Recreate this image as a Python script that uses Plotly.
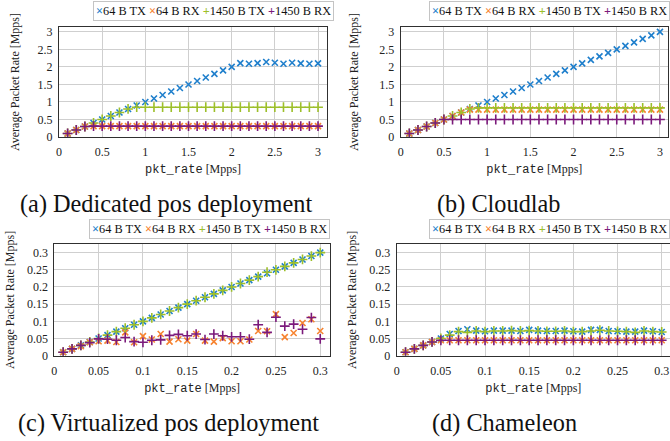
import plotly.graph_objects as go

# ---------------- data ----------------
series_names = ["64 B TX", "64 B RX", "1450 B TX", "1450 B RX"]

rate_hw = [0.1, 0.2, 0.3, 0.4, 0.5, 0.6, 0.7, 0.8, 0.9, 1.0,
           1.1, 1.2, 1.3, 1.4, 1.5, 1.6, 1.7, 1.8, 1.9, 2.0,
           2.1, 2.2, 2.3, 2.4, 2.5, 2.6, 2.7, 2.8, 2.9, 3.0]

rate_vm = [0.01, 0.02, 0.03, 0.04, 0.05, 0.06, 0.07, 0.08, 0.09, 0.10,
           0.11, 0.12, 0.13, 0.14, 0.15, 0.16, 0.17, 0.18, 0.19, 0.20,
           0.21, 0.22, 0.23, 0.24, 0.25, 0.26, 0.27, 0.28, 0.29, 0.30]

# (a) Dedicated pos deployment
ded_64_tx = [0.1, 0.2, 0.3, 0.4, 0.5, 0.6, 0.7, 0.8, 0.9, 1.0,
             1.1, 1.2, 1.3, 1.4, 1.5, 1.6, 1.7, 1.8, 1.9, 2.0,
             2.11, 2.09, 2.11, 2.14, 2.12, 2.09, 2.12, 2.1, 2.09, 2.1]
ded_64_rx = [0.1, 0.2, 0.3, 0.31, 0.31, 0.31, 0.31, 0.31, 0.31, 0.31,
             0.31, 0.31, 0.31, 0.31, 0.31, 0.31, 0.31, 0.31, 0.31, 0.31,
             0.31, 0.31, 0.31, 0.31, 0.31, 0.31, 0.31, 0.31, 0.31, 0.31]
ded_1450_tx = [0.1, 0.2, 0.3, 0.4, 0.5, 0.6, 0.7, 0.8, 0.85, 0.85,
               0.85, 0.85, 0.85, 0.85, 0.85, 0.85, 0.85, 0.85, 0.85, 0.85,
               0.85, 0.85, 0.85, 0.85, 0.85, 0.85, 0.85, 0.85, 0.85, 0.85]
ded_1450_rx = [0.1, 0.2, 0.3, 0.31, 0.31, 0.31, 0.31, 0.31, 0.31, 0.31,
               0.31, 0.31, 0.31, 0.31, 0.31, 0.31, 0.31, 0.31, 0.31, 0.31,
               0.31, 0.31, 0.31, 0.31, 0.31, 0.31, 0.31, 0.31, 0.31, 0.31]

# (b) Cloudlab
cl_64_tx = [0.1, 0.2, 0.3, 0.4, 0.5, 0.6, 0.7, 0.8, 0.9, 1.0,
            1.1, 1.2, 1.3, 1.4, 1.5, 1.6, 1.7, 1.8, 1.9, 2.0,
            2.1, 2.2, 2.3, 2.4, 2.5, 2.6, 2.7, 2.8, 2.9, 3.0]
cl_64_rx = [0.1, 0.2, 0.3, 0.4, 0.5, 0.6, 0.7, 0.78, 0.78, 0.78,
            0.78, 0.78, 0.78, 0.78, 0.78, 0.78, 0.78, 0.78, 0.78, 0.78,
            0.78, 0.78, 0.78, 0.78, 0.78, 0.78, 0.78, 0.78, 0.78, 0.78]
cl_1450_tx = [0.1, 0.2, 0.3, 0.4, 0.5, 0.6, 0.7, 0.8, 0.83, 0.83,
              0.83, 0.83, 0.83, 0.83, 0.83, 0.83, 0.83, 0.83, 0.83, 0.83,
              0.83, 0.83, 0.83, 0.83, 0.83, 0.83, 0.83, 0.83, 0.83, 0.83]
cl_1450_rx = [0.1, 0.2, 0.3, 0.4, 0.5, 0.5, 0.5, 0.5, 0.5, 0.5,
              0.5, 0.5, 0.5, 0.5, 0.5, 0.5, 0.5, 0.5, 0.5, 0.5,
              0.5, 0.5, 0.5, 0.5, 0.5, 0.5, 0.5, 0.5, 0.5, 0.5]

# (c) Virtualized pos deployment
vm_64_tx = [0.01, 0.02, 0.03, 0.04, 0.05, 0.06, 0.07, 0.08, 0.09, 0.10,
            0.11, 0.12, 0.13, 0.14, 0.15, 0.16, 0.17, 0.18, 0.19, 0.20,
            0.21, 0.22, 0.23, 0.24, 0.25, 0.26, 0.27, 0.28, 0.29, 0.30]
vm_64_rx = [0.01, 0.02, 0.028, 0.039, 0.042, 0.044, 0.04, 0.068, 0.039, 0.057,
            0.047, 0.063, 0.041, 0.048, 0.044, 0.063, 0.044, 0.041, 0.051, 0.042,
            0.042, 0.047, 0.072, 0.071, 0.121, 0.054, 0.066, 0.095, 0.106, 0.072]
vm_1450_tx = [0.01, 0.02, 0.03, 0.04, 0.05, 0.06, 0.07, 0.08, 0.09, 0.10,
              0.11, 0.12, 0.13, 0.14, 0.15, 0.16, 0.17, 0.18, 0.19, 0.20,
              0.21, 0.22, 0.23, 0.243, 0.25, 0.26, 0.27, 0.28, 0.29, 0.30]
vm_1450_rx = [0.01, 0.02, 0.03, 0.038, 0.049, 0.048, 0.045, 0.053, 0.041, 0.039,
              0.045, 0.046, 0.059, 0.062, 0.058, 0.063, 0.047, 0.063, 0.058, 0.055,
              0.055, 0.048, 0.09, 0.068, 0.112, 0.086, 0.092, 0.077, 0.111, 0.049]

# (d) Chameleon
ch_64_tx = [0.01, 0.02, 0.03, 0.04, 0.05, 0.063, 0.072, 0.077, 0.073, 0.071,
            0.073, 0.073, 0.073, 0.072, 0.075, 0.073, 0.072, 0.072, 0.073, 0.071,
            0.07, 0.075, 0.075, 0.072, 0.071, 0.07, 0.07, 0.073, 0.071, 0.069]
ch_64_rx = [0.01, 0.02, 0.03, 0.04, 0.045, 0.045, 0.045, 0.045, 0.045, 0.045,
            0.045, 0.045, 0.045, 0.045, 0.045, 0.045, 0.045, 0.045, 0.045, 0.045,
            0.045, 0.045, 0.045, 0.045, 0.045, 0.045, 0.045, 0.045, 0.045, 0.045]
ch_1450_tx = [0.01, 0.02, 0.03, 0.04, 0.05, 0.06, 0.07, 0.068, 0.072, 0.07,
              0.072, 0.072, 0.073, 0.072, 0.073, 0.072, 0.071, 0.071, 0.072, 0.07,
              0.07, 0.072, 0.074, 0.072, 0.071, 0.07, 0.068, 0.072, 0.07, 0.069]
ch_1450_rx = [0.01, 0.02, 0.03, 0.04, 0.045, 0.045, 0.045, 0.045, 0.045, 0.045,
              0.045, 0.045, 0.045, 0.045, 0.045, 0.045, 0.045, 0.045, 0.045, 0.045,
              0.045, 0.045, 0.045, 0.045, 0.045, 0.045, 0.045, 0.045, 0.045, 0.045]

captions = ["(a) Dedicated pos deployment", "(b) Cloudlab",
            "(c) Virtualized pos deployment", "(d) Chameleon"]

ticks_hw = [0, 0.5, 1, 1.5, 2, 2.5, 3]
ticklabels_hw = ["0", "0.5", "1", "1.5", "2", "2.5", "3"]
ticks_vm = [0, 0.05, 0.1, 0.15, 0.2, 0.25, 0.3]
ticklabels_vm = ["0", "0.05", "0.1", "0.15", "0.2", "0.25", "0.3"]

# ---------------- style ----------------
W, H = 670, 441
colors = ["#1f7fcc", "#f7832f", "#9dbf2a", "#7b1a7b"]
symbols = ["x-thin", "x-thin", "cross-thin", "cross-thin"]
glyphs = ["×", "×", "+", "+"]
SERIF = "Liberation Serif, Times New Roman, serif"

# panel boxes in pixels: (left, right, top, bottom)
panels = [
    dict(x=rate_hw, ys=[ded_64_tx, ded_64_rx, ded_1450_tx, ded_1450_rx],
         box=(59, 327, 27, 137), xmax=3.104, ymax=3.14,
         ticks=ticks_hw, labels=ticklabels_hw, ystand=15,
         legend=(213, 10.5, "center"), cap=(166, 204)),
    dict(x=rate_hw, ys=[cl_64_tx, cl_64_rx, cl_1450_tx, cl_1450_rx],
         box=(400.7, 668, 27, 137), xmax=3.093, ymax=3.14,
         ticks=ticks_hw, labels=ticklabels_hw, ystand=18,
         legend=(669.5, 11, "right"), cap=(499, 204)),
    dict(x=rate_vm, ys=[vm_64_tx, vm_64_rx, vm_1450_tx, vm_1450_rx],
         box=(54.3, 330, 244, 355.7), xmax=0.311, ymax=0.325,
         ticks=ticks_vm, labels=ticklabels_vm, ystand=9,
         legend=(209.5, 228.5, "center"), cap=(168, 423)),
    dict(x=rate_vm, ys=[ch_64_tx, ch_64_rx, ch_1450_tx, ch_1450_rx],
         box=(396.7, 670, 244, 355.7), xmax=0.3094, ymax=0.325,
         ticks=ticks_vm, labels=ticklabels_vm, ystand=10,
         legend=(669.5, 228.5, "right"), cap=(504, 423)),
]

fig = go.Figure()
annotations = []
layout_axes = {}

for i, p in enumerate(panels):
    n = "" if i == 0 else str(i + 1)
    xref, yref = "x" + n, "y" + n
    for k in range(4):
        fig.add_trace(go.Scatter(
            x=p["x"], y=p["ys"][k], mode="markers", name=series_names[k],
            xaxis=xref, yaxis=yref, showlegend=False,
            marker=dict(symbol=symbols[k], size=6 if k < 2 else 7,
                        color=colors[k],
                        line=dict(color=colors[k], width=1.6)),
        ))
    l, r, t, b = p["box"]
    common = dict(showgrid=True, gridcolor="#cfcfcf", gridwidth=1,
                  zeroline=False, showline=True, linecolor="#303030",
                  linewidth=1, mirror=True, ticks="",
                  tickfont=dict(family=SERIF, size=12, color="#222"),
                  automargin=False, fixedrange=True)
    layout_axes["xaxis" + n] = dict(
        common, domain=[l / W, min(r / W, 1.0)], anchor=yref,
        range=[0, p["xmax"]], tickvals=p["ticks"], ticktext=p["labels"],
        ticklabelstandoff=4,
        title=dict(text="<span style='font-family:Liberation Mono, monospace'>pkt_rate</span> [Mpps]",
                   font=dict(family=SERIF, size=12, color="#222"), standoff=6))
    layout_axes["yaxis" + n] = dict(
        common, domain=[1 - b / H, 1 - t / H], anchor=xref,
        range=[0, p["ymax"]], tickvals=p["ticks"], ticktext=p["labels"],
        ticklabelstandoff=3,
        title=dict(text="Average Packet Rate [Mpps]",
                   font=dict(family=SERIF, size=12, color="#222"), standoff=p["ystand"]))
    # legend box
    parts = []
    for k in range(4):
        parts.append("<span style='color:%s'><b>%s</b></span>%s" % (colors[k], glyphs[k], series_names[k]))
    lx, ly, anc = p["legend"]
    annotations.append(dict(
        xref="paper", yref="paper", x=lx / W, y=1 - ly / H,
        xanchor=anc, yanchor="middle", showarrow=False,
        text=" ".join(parts), font=dict(family=SERIF, size=12.3, color="#111"),
        bordercolor="#c4c4c4", borderwidth=1, borderpad=2, bgcolor="white"))
    cx, cy = p["cap"]
    annotations.append(dict(
        xref="paper", yref="paper", x=cx / W, y=1 - cy / H,
        xanchor="center", yanchor="middle", showarrow=False,
        text=captions[i], font=dict(family=SERIF, size=24.3, color="#111")))

fig.update_layout(
    width=W, height=H, margin=dict(l=0, r=0, t=0, b=0),
    paper_bgcolor="white", plot_bgcolor="white",
    annotations=annotations, **layout_axes)

fig.write_html("out.html", config={"displayModeBar": False},
               post_script="document.body.style.margin='0px';")
